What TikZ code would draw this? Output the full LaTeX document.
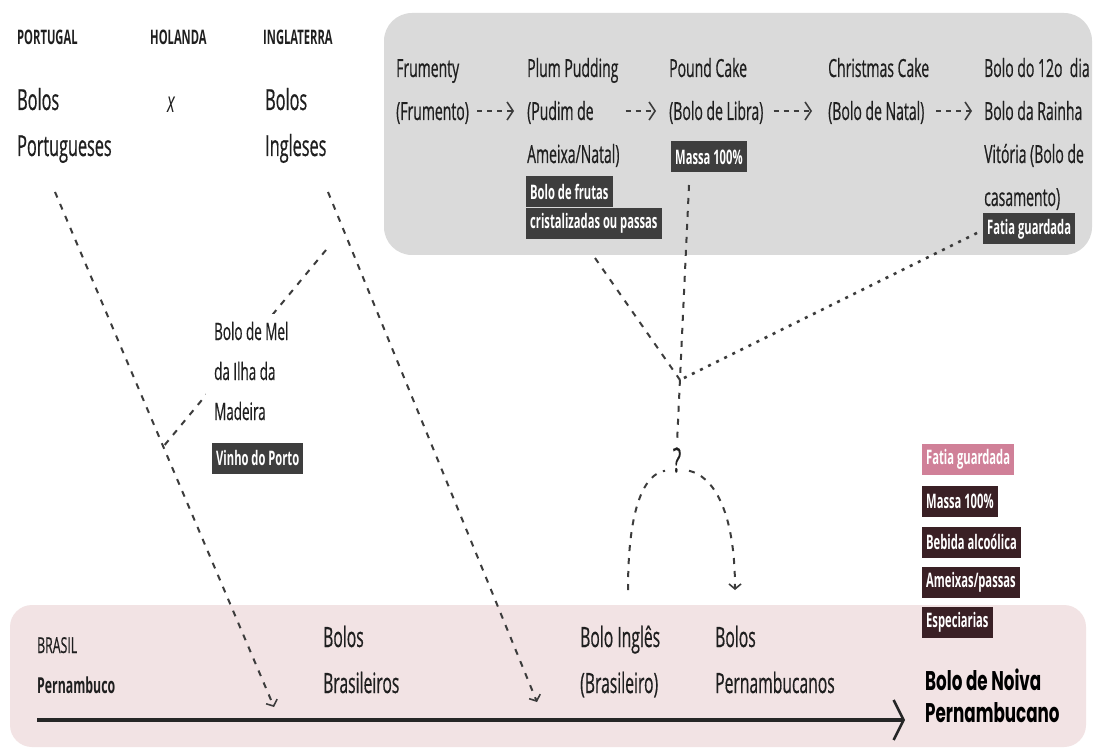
\documentclass[tikz,border=0pt]{standalone}
\usepackage{fontspec}
\setmainfont{Open Sans}[FakeStretch=0.56, UprightFeatures={FakeBold=0.5}]
\newfontfamily\noivafont{Poppins}[FakeStretch=0.62]
\usetikzlibrary{arrows.meta,calc}
\definecolor{boxgray}{RGB}{218,218,218}
\definecolor{tagdark}{RGB}{62,62,62}
\definecolor{pinkbg}{RGB}{242,227,228}
\definecolor{tagpink}{RGB}{208,128,152}
\definecolor{tagmaroon}{RGB}{58,32,37}
\definecolor{dashcol}{RGB}{60,60,60}
\begin{document}
\begin{tikzpicture}[x=1pt,y=-1pt,
  txt/.style={anchor=base west, inner sep=0pt, align=left, text=black!88},
  hdr/.style={txt, font=\bfseries\fontsize{20}{24}\selectfont},
  bigtxt/.style={txt, font=\fontsize{29}{46}\selectfont},
  boxtxt/.style={txt, font=\fontsize{25}{43}\selectfont},
  meltxt/.style={txt, font=\fontsize{24}{40}\selectfont},
  bottxt/.style={txt, font=\fontsize{28}{46}\selectfont},
  tag/.style={anchor=west, fill=#1, text=white, font=\bfseries\fontsize{20}{22}\selectfont, inner xsep=4pt, inner ysep=0pt, minimum height=31pt},
  dashln/.style={draw=dashcol, line width=2pt, dash pattern=on 6pt off 7pt},
  dotln/.style={draw=dashcol, line width=2.6pt, dash pattern=on 3pt off 6pt},
  barb/.style={-{Straight Barb[length=5pt,width=12pt,line width=1.6pt]}},
  gbarrow/.style={draw=dashcol, line width=1.8pt, dash pattern=on 5pt off 5pt, -{Straight Barb[length=6pt,width=18pt,line width=1.6pt]}},
]
\useasboundingbox (0,0) rectangle (1094,751);
\fill[white] (0,0) rectangle (1094,751);
\fill[boxgray, rounded corners=28pt] (384,13) rectangle (1092,255);
\fill[pinkbg, rounded corners=22pt] (10,605) rectangle (1086,747);

% top-left (anchor = baseline of last line)
\node[hdr] (por) at (17,45) {PORTUGAL};
\node[hdr] (hol) at (150,45) {HOLANDA};
\node[hdr] (ing) at (263,45) {INGLATERRA};
\node[bigtxt] (bport) at (17,156) {Bolos\\Portugueses};
\node[txt, font=\itshape\fontsize{29}{46}\selectfont] (xx) at (167,113) {x};
\node[bigtxt] (bing) at (265,156) {Bolos\\Ingleses};

% gray box
\node[boxtxt] (frum) at (396,120) {Frumenty\\(Frumento)};
\node[boxtxt] (plum) at (527,163) {Plum Pudding\\(Pudim de\\Ameixa/Natal)};
\node[boxtxt] (pound) at (669,120) {Pound Cake\\(Bolo de Libra)};
\node[boxtxt] (xmas) at (828,120) {Christmas Cake\\(Bolo de Natal)};
\node[boxtxt] (doze) at (984,206) {Bolo do 12o\ \ dia\\Bolo da Rainha\\Vitória (Bolo de\\casamento)};
\node[tag=tagdark] (massa1) at (671,157) {Massa 100\%};
\node[tag=tagdark] (frutas1) at (526,192) {Bolo de frutas};
\node[tag=tagdark, anchor=north west] (frutas2) at (frutas1.south west) {cristalizadas ou passas};
\node[tag=tagdark] (fatia1) at (983,229) {Fatia guardada};

\coordinate (r2) at (0,111);
\draw[gbarrow] ($(frum.east |- r2)+(8,0)$) -- ($(plum.west |- r2)+(-13,0)$);
\draw[gbarrow] ($(plum.east |- r2)+(6,0)$) -- ($(pound.west |- r2)+(-13,0)$);
\draw[gbarrow] ($(pound.east |- r2)+(10,0)$) -- ($(xmas.west |- r2)+(-16,0)$);
\draw[gbarrow] ($(xmas.east |- r2)+(7,0)$) -- ($(doze.west |- r2)+(-12,0)$);

% bottom band
\node[txt, font=\fontsize{22}{40}\selectfont] (bra) at (37,693) {BRASIL\\\textbf{Pernambuco}};
\node[bottxt] (bbra) at (323,693) {Bolos\\Brasileiros};
\node[bottxt] (bingb) at (580,693) {Bolo Inglês\\(Brasileiro)};
\node[bottxt] (bpern) at (715,693) {Bolos\\Pernambucanos};
\node[txt, font=\noivafont\bfseries\fontsize{27}{32}\selectfont, text=black] (noiva) at (925,722) {Bolo de Noiva\\Pernambucano};

\node[tag=tagpink] (fatia2) at (922,459) {Fatia guardada};
\node[tag=tagmaroon] (massa2) at (922,501) {Massa 100\%};
\node[tag=tagmaroon] (bebida) at (922,542) {Bebida alcoólica};
\node[tag=tagmaroon] (ameixa) at (922,582) {Ameixas/passas};
\node[tag=tagmaroon] (espec) at (922,622) {Especiarias};

\coordinate (tl0) at (37,720);
\coordinate (tl1) at (905,720);
\draw[line width=3.5pt, draw=black!85, -{Straight Barb[length=10pt,width=40pt,line width=2.5pt]}] (tl0) -- (tl1);

% dashed connectors
\coordinate (l1s) at (55,192);
\coordinate (l1e) at (274,707);
\coordinate (l2s) at (328,192);
\coordinate (l2e) at (537,702);
\coordinate (mels) at (326,250);
\coordinate (melj) at (163,447);
\draw[dashln, barb] (l1s) -- (l1e);
\draw[dashln, barb] (l2s) -- (l2e);
\draw[dashln] (mels) -- (melj);

% Bolo de Mel (drawn over its branch line)
\node[meltxt, fill=white, inner xsep=8pt, inner ysep=8pt] (mel) at (206,420) {Bolo de Mel\\da Ilha da\\Madeira};
\node[tag=tagdark] (vinho) at (212,458) {Vinho do Porto};

\coordinate (plums) at (595,258);
\coordinate (junc) at (680,380);
\coordinate (vs) at (689,185);
\coordinate (fs) at (977,233);
\node[txt, anchor=center, font=\fontsize{34}{36}\selectfont] (q) at (677,460) {?};
\draw[dashln] (plums) -- (junc);
\draw[dashln] (vs) -- ($(q.north)+(0,-4)$);
\draw[dotln] (fs) -- (junc);

\coordinate (as) at (628,590);
\coordinate (ae) at (735,590);
\draw[dashln] (as) .. controls (628,505) and (645,474) .. ($(q.south)+(-12,-2)$);
\draw[dashln, barb] ($(q.south)+(12,-2)$) .. controls (712,476) and (735,508) .. (ae);
\end{tikzpicture}
\end{document}
